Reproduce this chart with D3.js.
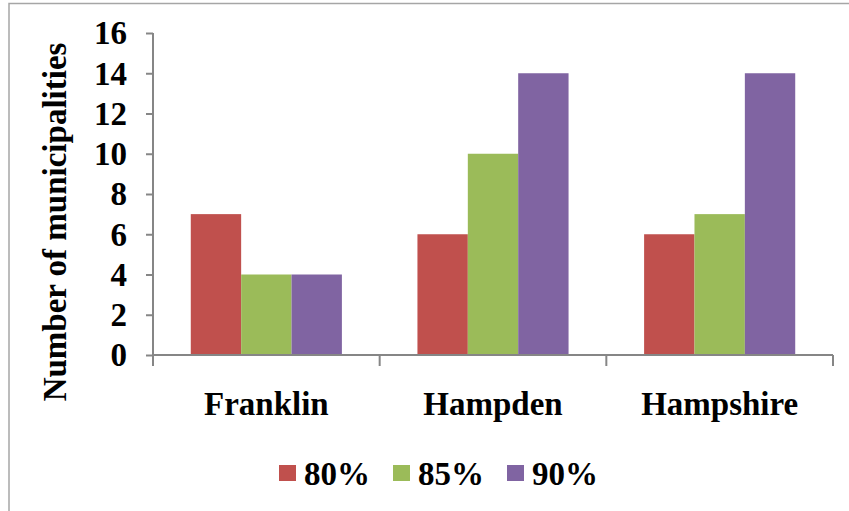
<!DOCTYPE html>
<html>
<head>
<meta charset="utf-8">
<script src="https://cdn.jsdelivr.net/npm/d3@7"></script>
<style>
  body { margin: 0; background: #fff; }
  svg text { font-family: "Liberation Serif", "Times New Roman", serif; font-weight: bold; fill: #000; }
</style>
</head>
<body>
<div id="graph"></div>
<script>
var categories = ["Franklin", "Hampden", "Hampshire"];
var seriesNames = ["80%", "85%", "90%"];
var values80 = [7, 6, 6];
var values85 = [4, 10, 7];
var values90 = [4, 14, 14];
var yTicks = [0, 2, 4, 6, 8, 10, 12, 14, 16];
var colors = ["#C0504D", "#9BBB59", "#8064A2"];

var width = 849;
var height = 511;
var plotLeft = 153, plotRight = 833, plotTop = 33, plotBottom = 355;

var svg = d3.select('#graph')
  .append('svg')
  .attr('width', width)
  .attr('height', height);

// outer frame
svg.append('rect')
  .attr('x', 9).attr('y', 3.5)
  .attr('width', 900).attr('height', 600)
  .attr('fill', 'none')
  .attr('stroke', '#a6a6a6')
  .attr('stroke-width', 1.5);

var x = d3.scaleBand()
  .domain(categories)
  .range([plotLeft, plotRight])
  .paddingInner(1 / 3)
  .paddingOuter(1 / 6);

var xs = d3.scaleBand()
  .domain(seriesNames)
  .range([0, x.bandwidth()]);

var y = d3.scaleLinear()
  .domain([0, 16])
  .range([plotBottom, plotTop]);

var rows = categories.map(function(c, i) {
  return { cat: c, vals: [values80[i], values85[i], values90[i]] };
});

var groups = svg.selectAll('g.cat')
  .data(rows)
  .enter()
  .append('g')
  .attr('class', 'cat')
  .attr('transform', function(d) { return 'translate(' + x(d.cat) + ',0)'; });

groups.selectAll('rect')
  .data(function(d) { return d.vals.map(function(v, j) { return { s: seriesNames[j], v: v, c: colors[j] }; }); })
  .enter()
  .append('rect')
  .attr('x', function(d) { return xs(d.s); })
  .attr('y', function(d) { return y(d.v); })
  .attr('width', xs.bandwidth())
  .attr('height', function(d) { return plotBottom - y(d.v); })
  .attr('fill', function(d) { return d.c; });

// y axis
var yAxis = d3.axisLeft(y)
  .tickValues(yTicks)
  .tickSize(7)
  .tickPadding(19);

var gy = svg.append('g')
  .attr('transform', 'translate(' + plotLeft + ',0)')
  .call(yAxis);
gy.select('.domain').attr('stroke', '#868686').attr('stroke-width', 2)
  .attr('d', 'M0,' + plotTop + 'V' + (plotBottom + 11));
gy.selectAll('.tick line').attr('stroke', '#868686').attr('stroke-width', 2);
gy.selectAll('.tick text')
  .attr('font-family', null)
  .attr('font-size', null)
  .style('font-size', '33px')
  .attr('dy', '0.33em');

// x axis
var step = x.step();
var boundaries = d3.range(categories.length + 1).map(function(i) { return plotLeft + i * step; });

svg.append('line')
  .attr('x1', plotLeft).attr('x2', plotRight)
  .attr('y1', plotBottom).attr('y2', plotBottom)
  .attr('stroke', '#868686').attr('stroke-width', 2);

svg.selectAll('line.xt')
  .data(boundaries)
  .enter()
  .append('line')
  .attr('class', 'xt')
  .attr('x1', function(d) { return d; }).attr('x2', function(d) { return d; })
  .attr('y1', plotBottom).attr('y2', plotBottom + 11)
  .attr('stroke', '#868686').attr('stroke-width', 2);

svg.selectAll('text.xl')
  .data(categories)
  .enter()
  .append('text')
  .attr('class', 'xl')
  .attr('x', function(d) { return x(d) + x.bandwidth() / 2; })
  .attr('y', 415)
  .attr('text-anchor', 'middle')
  .style('font-size', '33px')
  .text(function(d) { return d; });

// y title
svg.append('text')
  .attr('transform', 'translate(66,222) rotate(-90)')
  .attr('text-anchor', 'middle')
  .style('font-size', '33px')
  .text('Number of municipalities');

// legend
var legendX = [279, 393, 507];
var legend = svg.selectAll('g.leg')
  .data(seriesNames)
  .enter()
  .append('g')
  .attr('class', 'leg')
  .attr('transform', function(d, i) { return 'translate(' + legendX[i] + ',465)'; });

legend.append('rect')
  .attr('width', 17).attr('height', 16)
  .attr('fill', function(d, i) { return colors[i]; });

legend.append('text')
  .attr('x', 25).attr('y', 20)
  .style('font-size', '33px')
  .text(function(d) { return d; });
</script>
</body>
</html>
